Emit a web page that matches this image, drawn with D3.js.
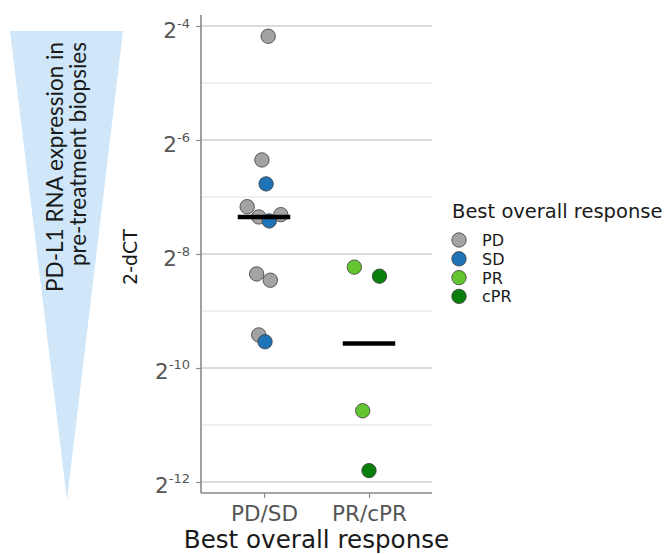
<!DOCTYPE html>
<html>
<head>
<meta charset="utf-8">
<script src="https://cdn.jsdelivr.net/npm/d3@7"></script>
<style>
  html, body { margin: 0; padding: 0; background: #ffffff; }
  svg { display: block; }
  text { font-family: "DejaVu Sans", sans-serif; }
</style>
</head>
<body>
<svg id="chart" width="672" height="554"></svg>
<script>
// Response categories and their fill colours
const responses = ["PD", "SD", "PR", "cPR"];
const responseColours = ["#a3a3a6", "#1f73b7", "#63c52f", "#0b7f0b"];

// Grouping on the x axis
const groups = ["PD/SD", "PR/cPR"];

// One entry per biopsy: response, dCT value, horizontal jitter (in category units)
const pointResponse = ["PD", "PD", "SD", "PD", "PD", "PD", "SD", "PD", "PD", "PD", "SD",
                       "PR", "cPR", "PR", "cPR"];
const pointDCT = [4.18, 6.35, 6.77, 7.17, 7.35, 7.31, 7.42, 8.35, 8.46, 9.42, 9.54,
                  8.23, 8.39, 10.75, 11.80];
const pointJitter = [0.04, -0.02, 0.02, -0.16, -0.05, 0.16, 0.05, -0.07, 0.06, -0.05, 0.01,
                     -0.14, 0.10, -0.06, 0.0];

// Axis ticks (exponents of 2)
const majorExponents = [-4, -6, -8, -10, -12];
const minorExponents = [-5, -7, -9, -11];

const groupOf = r => (r === "PD" || r === "SD") ? "PD/SD" : "PR/cPR";

const points = pointResponse.map((r, i) => ({
  response: r,
  group: groupOf(r),
  dct: pointDCT[i],
  value: Math.pow(2, -pointDCT[i]),
  jitter: pointJitter[i]
}));

const svg = d3.select("#chart");

// Panel geometry
const panel = { left: 201, right: 432, top: 15, bottom: 493 };

const colour = d3.scaleOrdinal().domain(responses).range(responseColours);

// Discrete x positions with ggplot-style 0.6 expansion
const xCat = d3.scaleLinear().domain([0.4, groups.length + 0.6]).range([panel.left, panel.right]);
const xPos = (g, j) => xCat(groups.indexOf(g) + 1 + (j || 0));

const y = d3.scaleLog().base(2)
  .domain([Math.pow(2, -12.193), Math.pow(2, -3.807)])
  .range([panel.bottom, panel.top]);

// Decorative gradient triangle with rotated caption
const tri = d3.path();
tri.moveTo(10, 31); tri.lineTo(123, 31); tri.lineTo(67, 500); tri.closePath();
svg.append("path").attr("d", tri.toString()).attr("fill", "#cfe7f8");

const caption = svg.append("text")
  .attr("transform", "translate(0,42) rotate(-90)")
  .attr("text-anchor", "end")
  .style("font-family", "Lato, 'Open Sans', sans-serif")
  .style("font-size", "22.5px")
  .attr("fill", "#1a1a1a");
caption.append("tspan").attr("x", 0).attr("y", 63).text("PD-L1 RNA expression in");
caption.append("tspan").attr("x", 0).attr("y", 86).text("pre-treatment biopsies");

// Gridlines
const grid = svg.append("g");
grid.selectAll("line.minor").data(minorExponents).join("line")
  .attr("class", "minor")
  .attr("x1", panel.left).attr("x2", panel.right)
  .attr("y1", d => y(Math.pow(2, d))).attr("y2", d => y(Math.pow(2, d)))
  .attr("stroke", "#e3e3e3").attr("stroke-width", 1);
grid.selectAll("line.major").data(majorExponents).join("line")
  .attr("class", "major")
  .attr("x1", panel.left).attr("x2", panel.right)
  .attr("y1", d => y(Math.pow(2, d))).attr("y2", d => y(Math.pow(2, d)))
  .attr("stroke", "#b8b8b8").attr("stroke-width", 1.1);

// Y axis
const yAxis = d3.axisLeft(y)
  .tickValues(majorExponents.map(e => Math.pow(2, e)))
  .tickSize(5)
  .tickFormat("");
const yg = svg.append("g").attr("transform", `translate(${panel.left},0)`).call(yAxis);
yg.select(".domain").remove();
yg.selectAll(".tick line").attr("stroke", "#8a8a8a").attr("stroke-width", 1.2);
yg.selectAll(".tick").each(function(d) {
  const e = Math.round(Math.log2(d));
  const t = d3.select(this).append("text")
    .attr("x", -11).attr("y", 11)
    .attr("text-anchor", "end")
    .attr("fill", "#555555");
  t.append("tspan").style("font-size", "21.5px").text("2");
  t.append("tspan").style("font-size", "13px").attr("dy", -10).text(String(e));
});
svg.append("line")
  .attr("x1", panel.left).attr("x2", panel.left)
  .attr("y1", panel.top).attr("y2", panel.bottom)
  .attr("stroke", "#8a8a8a").attr("stroke-width", 1.6);

// X axis
const xAxis = d3.axisBottom(d3.scalePoint().domain(groups).range([xPos(groups[0]), xPos(groups[1])]))
  .tickSize(5).tickPadding(4);
const xg = svg.append("g").attr("transform", `translate(0,${panel.bottom})`).call(xAxis);
xg.select(".domain").remove();
xg.selectAll(".tick line").attr("stroke", "#8a8a8a").attr("stroke-width", 1.2);
xg.selectAll(".tick text")
  .attr("fill", "#555555")
  .style("font-size", "21.5px")
  .style("font-family", "'DejaVu Sans', sans-serif")
  .attr("dy", "0.9em");
svg.append("line")
  .attr("x1", panel.left).attr("x2", panel.right)
  .attr("y1", panel.bottom).attr("y2", panel.bottom)
  .attr("stroke", "#8a8a8a").attr("stroke-width", 1.6);

// Axis titles
svg.append("text")
  .attr("x", (panel.left + panel.right) / 2).attr("y", 548)
  .attr("text-anchor", "middle")
  .attr("fill", "#1a1a1a")
  .style("font-size", "24.6px")
  .text("Best overall response");

svg.append("text")
  .attr("transform", `translate(137,${(panel.top + panel.bottom) / 2 + 3}) rotate(-90)`)
  .attr("text-anchor", "middle")
  .attr("fill", "#1a1a1a")
  .style("font-size", "19px")
  .text("2-dCT");

// Points
svg.append("g").selectAll("circle").data(points).join("circle")
  .attr("cx", d => xPos(d.group, d.jitter))
  .attr("cy", d => y(d.value))
  .attr("r", 7.2)
  .attr("fill", d => colour(d.response))
  .attr("stroke", "#3a3a3a")
  .attr("stroke-width", 0.8);

// Median bars, computed on the log scale
const medians = groups.map(g => ({
  group: g,
  dct: d3.median(points.filter(p => p.group === g), p => p.dct)
}));
svg.append("g").selectAll("line").data(medians).join("line")
  .attr("x1", d => xPos(d.group, -0.25))
  .attr("x2", d => xPos(d.group, 0.25))
  .attr("y1", d => y(Math.pow(2, -d.dct)))
  .attr("y2", d => y(Math.pow(2, -d.dct)))
  .attr("stroke", "#000000")
  .attr("stroke-width", 4.5);

// Legend
const legend = svg.append("g").attr("transform", "translate(452,0)");
legend.append("text")
  .attr("x", 0).attr("y", 218)
  .attr("fill", "#1a1a1a")
  .style("font-size", "19.5px")
  .text("Best overall response");
const keys = legend.selectAll("g.key").data(responses).join("g")
  .attr("class", "key")
  .attr("transform", (d, i) => `translate(0,${240 + i * 18.8})`);
keys.append("circle")
  .attr("cx", 7).attr("cy", 0).attr("r", 7.2)
  .attr("fill", d => colour(d))
  .attr("stroke", "#3a3a3a").attr("stroke-width", 0.8);
keys.append("text")
  .attr("x", 30).attr("y", 6)
  .attr("fill", "#1a1a1a")
  .style("font-size", "16px")
  .text(d => d);
</script>
</body>
</html>
